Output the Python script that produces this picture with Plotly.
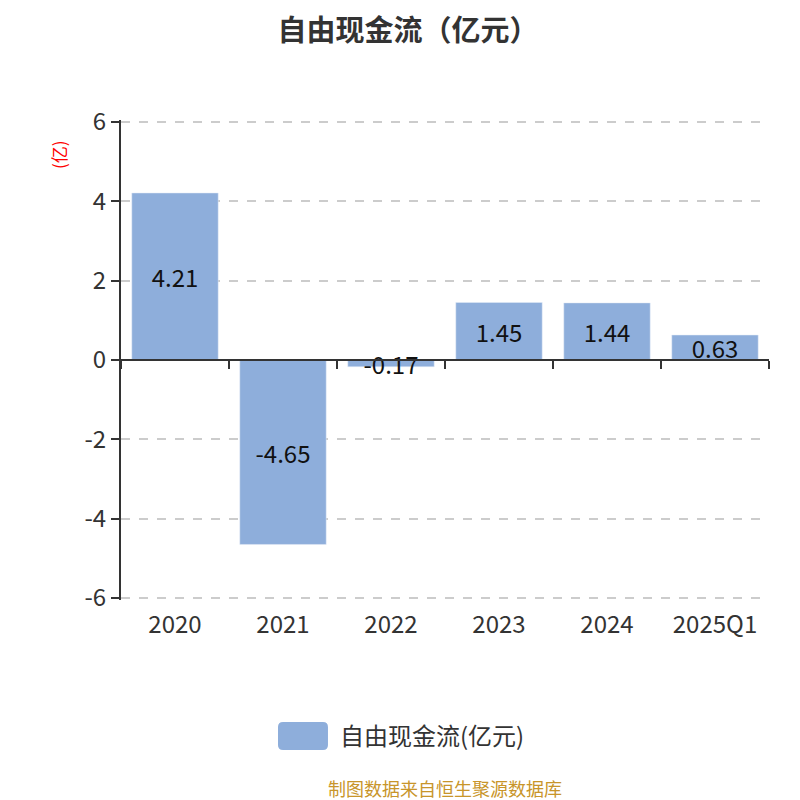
import plotly.graph_objects as go

categories = ["2020", "2021", "2022", "2023", "2024", "2025Q1"]
values = [4.21, -4.65, -0.17, 1.45, 1.44, 0.63]
labels = ["4.21", "-4.65", "-0.17", "1.45", "1.44", "0.63"]
y_ticks = [-6, -4, -2, 0, 2, 4, 6]
y_tick_text = ["-6", "-4", "-2", "0", "2", "4", "6"]
series_name = "自由现金流(亿元)"

FONT = "Noto Sans CJK SC, Noto Sans, sans-serif"
BAR = "#8eaedb"

fig = go.Figure()
fig.add_trace(go.Bar(
    x=categories, y=values, text=labels, name=series_name,
    marker=dict(color=BAR), textposition="inside", insidetextanchor="middle",
    constraintext="none", textfont=dict(size=24, color="#111", family=FONT),
    cliponaxis=False, showlegend=False,
))
# invisible trace on the zero-positioned axis
fig.add_trace(go.Bar(x=categories, y=[0]*len(categories), xaxis="x2",
                     showlegend=False, hoverinfo="skip", marker=dict(color="rgba(0,0,0,0)")))

# legend swatch (rounded rect) in paper coordinates
x0, x1, y0, y1 = 0.2423, 0.3194, -0.3125, -0.2542
rx, ry = 0.0077, 0.0104
swatch = (f"M {x0+rx},{y1} L {x1-rx},{y1} Q {x1},{y1} {x1},{y1-ry} L {x1},{y0+ry} "
          f"Q {x1},{y0} {x1-rx},{y0} L {x0+rx},{y0} Q {x0},{y0} {x0},{y0+ry} "
          f"L {x0},{y1-ry} Q {x0},{y1} {x0+rx},{y1} Z")

fig.update_layout(
    width=800, height=800,
    margin=dict(l=113, r=39, t=112, b=208, autoexpand=False),
    paper_bgcolor="white", plot_bgcolor="white",
    bargap=0.2,
    showlegend=False,
    font=dict(family=FONT, color="#333"),
    title=dict(text="<b>自由现金流（亿元）</b>", x=0.5, xanchor="center", y=0.972, yanchor="middle",
               font=dict(size=29, color="#333", family=FONT)),
    xaxis=dict(type="category", showline=False, ticks="", showgrid=False, automargin=False,
               tickfont=dict(size=24, color="#333"), ticklabelstandoff=8),
    xaxis2=dict(type="category", overlaying="x", matches="x", anchor="free", position=0.5,
                showline=True, linecolor="#333", linewidth=2, ticks="outside", tickson="boundaries",
                ticklen=8, tickcolor="#333", tickwidth=1.5, showticklabels=False, showgrid=False),
    yaxis=dict(range=[-6.05, 6.05], tickvals=y_ticks, ticktext=y_tick_text, automargin=False,
               showline=True, linecolor="#333", linewidth=2,
               ticks="outside", ticklen=8, tickcolor="#333", tickwidth=1.5,
               showgrid=True, gridcolor="#cccccc", griddash="dash", gridwidth=1.5,
               zeroline=False, tickfont=dict(size=24, color="#333")),
    shapes=[dict(type="path", xref="paper", yref="paper", path=swatch,
                 fillcolor=BAR, line=dict(width=0))],
    annotations=[
        dict(text="(亿)", xref="paper", yref="paper", x=-0.0972, y=0.927, textangle=-90,
             xanchor="center", yanchor="middle",
             showarrow=False, font=dict(size=17, color="red")),
        dict(text=series_name, xref="paper", yref="paper", x=0.3349, y=-0.2812,
             xanchor="left", yanchor="middle",
             showarrow=False, font=dict(size=24, color="#333")),
        dict(text="制图数据来自恒生聚源数据库", xref="paper", yref="paper", x=0.5, y=-0.3917,
             yanchor="middle", showarrow=False, font=dict(size=18, color="#c8952a")),
    ],
)
fig.write_html("out.html")
